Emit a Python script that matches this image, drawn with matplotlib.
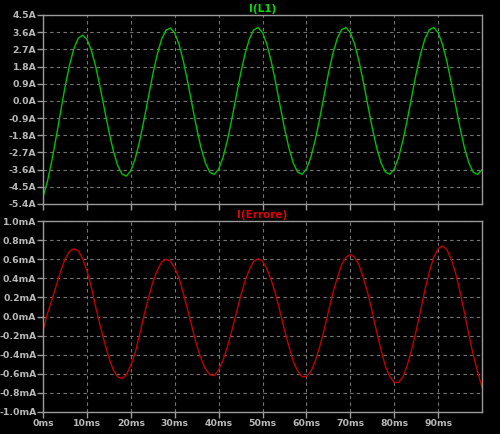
import numpy as np
import matplotlib.pyplot as plt

# tempo in ms (un campione per ms)
t_ms = np.arange(0, 101)

# I(L1) in A
i_l1 = [
    -5.03, -4.22, -3.15, -1.90, -0.58, 0.71, 1.83, 2.72, 3.27, 3.44,
    3.23, 2.66, 1.80, 0.73, -0.44, -1.59, -2.60, -3.38, -3.84, -3.94,
    -3.66, -3.03, -2.12, -1.01, 0.19, 1.38, 2.41, 3.22, 3.70, 3.82,
    3.56, 2.95, 2.05, 0.95, -0.25, -1.43, -2.46, -3.26, -3.74, -3.85,
    -3.59, -2.97, -2.07, -0.97, 0.23, 1.41, 2.44, 3.24, 3.72, 3.84,
    3.58, 2.96, 2.06, 0.96, -0.24, -1.42, -2.45, -3.25, -3.73, -3.84,
    -3.58, -2.96, -2.06, -0.96, 0.24, 1.42, 2.45, 3.25, 3.73, 3.84,
    3.58, 2.96, 2.06, 0.96, -0.24, -1.42, -2.45, -3.25, -3.73, -3.84,
    -3.58, -2.96, -2.06, -0.96, 0.24, 1.42, 2.45, 3.25, 3.73, 3.84,
    3.58, 2.96, 2.06, 0.96, -0.24, -1.42, -2.45, -3.25, -3.73, -3.85,
    -3.61,
]

# I(Errore) in mA
i_err = [
    -0.15, 0.03, 0.17, 0.32, 0.47, 0.60, 0.68, 0.71, 0.69, 0.61,
    0.48, 0.31, 0.10, -0.09, -0.27, -0.43, -0.56, -0.63, -0.65, -0.61,
    -0.51, -0.38, -0.19, 0.01, 0.19, 0.36, 0.48, 0.57, 0.60, 0.58,
    0.51, 0.40, 0.24, 0.06, -0.12, -0.30, -0.44, -0.55, -0.61, -0.62,
    -0.56, -0.46, -0.32, -0.15, 0.03, 0.21, 0.37, 0.49, 0.58, 0.605,
    0.58, 0.50, 0.38, 0.23, 0.05, -0.14, -0.31, -0.47, -0.57, -0.63,
    -0.63, -0.58, -0.47, -0.32, -0.15, 0.05, 0.24, 0.40, 0.54, 0.62,
    0.65, 0.62, 0.54, 0.40, 0.24, 0.05, -0.16, -0.35, -0.52, -0.63,
    -0.69, -0.69, -0.63, -0.51, -0.34, -0.15, 0.06, 0.28, 0.47, 0.62,
    0.71, 0.74, 0.70, 0.60, 0.45, 0.26, 0.04, -0.19, -0.40, -0.58,
    -0.74,
]

x_ticks = [0, 10, 20, 30, 40, 50, 60, 70, 80, 90]
x_labels = ["0ms", "10ms", "20ms", "30ms", "40ms", "50ms", "60ms", "70ms", "80ms", "90ms"]
y1_ticks = [-5.4, -4.5, -3.6, -2.7, -1.8, -0.9, 0.0, 0.9, 1.8, 2.7, 3.6, 4.5]
y1_labels = ["-5.4A", "-4.5A", "-3.6A", "-2.7A", "-1.8A", "-0.9A", "0.0A",
             "0.9A", "1.8A", "2.7A", "3.6A", "4.5A"]
y2_ticks = [-1.0, -0.8, -0.6, -0.4, -0.2, 0.0, 0.2, 0.4, 0.6, 0.8, 1.0]
y2_labels = ["-1.0mA", "-0.8mA", "-0.6mA", "-0.4mA", "-0.2mA", "0.0mA",
             "0.2mA", "0.4mA", "0.6mA", "0.8mA", "1.0mA"]

frame_col = "#9a9a9a"
text_col = "#b8b8b8"
grid_col = "#767676"

fig = plt.figure(figsize=(5, 4.34), dpi=100, facecolor="black")
ax1 = fig.add_axes([0.086, 0.530, 0.878, 0.4355])
ax2 = fig.add_axes([0.086, 0.0507, 0.878, 0.440])


def style(ax, yt, yl, ylim, show_x):
    ax.set_facecolor("black")
    ax.set_xlim(0, 100)
    ax.set_ylim(*ylim)
    ax.set_xticks(x_ticks)
    ax.set_xticklabels(x_labels if show_x else [])
    ax.set_yticks(yt)
    ax.set_yticklabels(yl)
    for s in ax.spines.values():
        s.set_color(frame_col)
        s.set_linewidth(1.0)
    ax.tick_params(colors=frame_col, length=4.3, width=1.0, pad=0.5)
    for lab in ax.get_xticklabels() + ax.get_yticklabels():
        lab.set_color(text_col)
        lab.set_fontsize(6.7)
        lab.set_fontweight("bold")
    ax.grid(True, color=grid_col, linestyle=(0, (3, 3)), linewidth=0.8)


style(ax1, y1_ticks, y1_labels, (-5.4, 4.5), False)
ax1.plot(t_ms, i_l1, color="#00c000", linewidth=1.0)
ax1.set_title("I(L1)", color="#00e000", fontsize=7.5, fontweight="bold", pad=2.5)

style(ax2, y2_ticks, y2_labels, (-1.0, 1.0), True)
ax2.plot(t_ms, i_err, color="#c00000", linewidth=1.0)
ax2.set_title("I(Errore)", color="#e00000", fontsize=7.5, fontweight="bold", pad=2.5)

fig.savefig("out.png", dpi=100, facecolor="black")
